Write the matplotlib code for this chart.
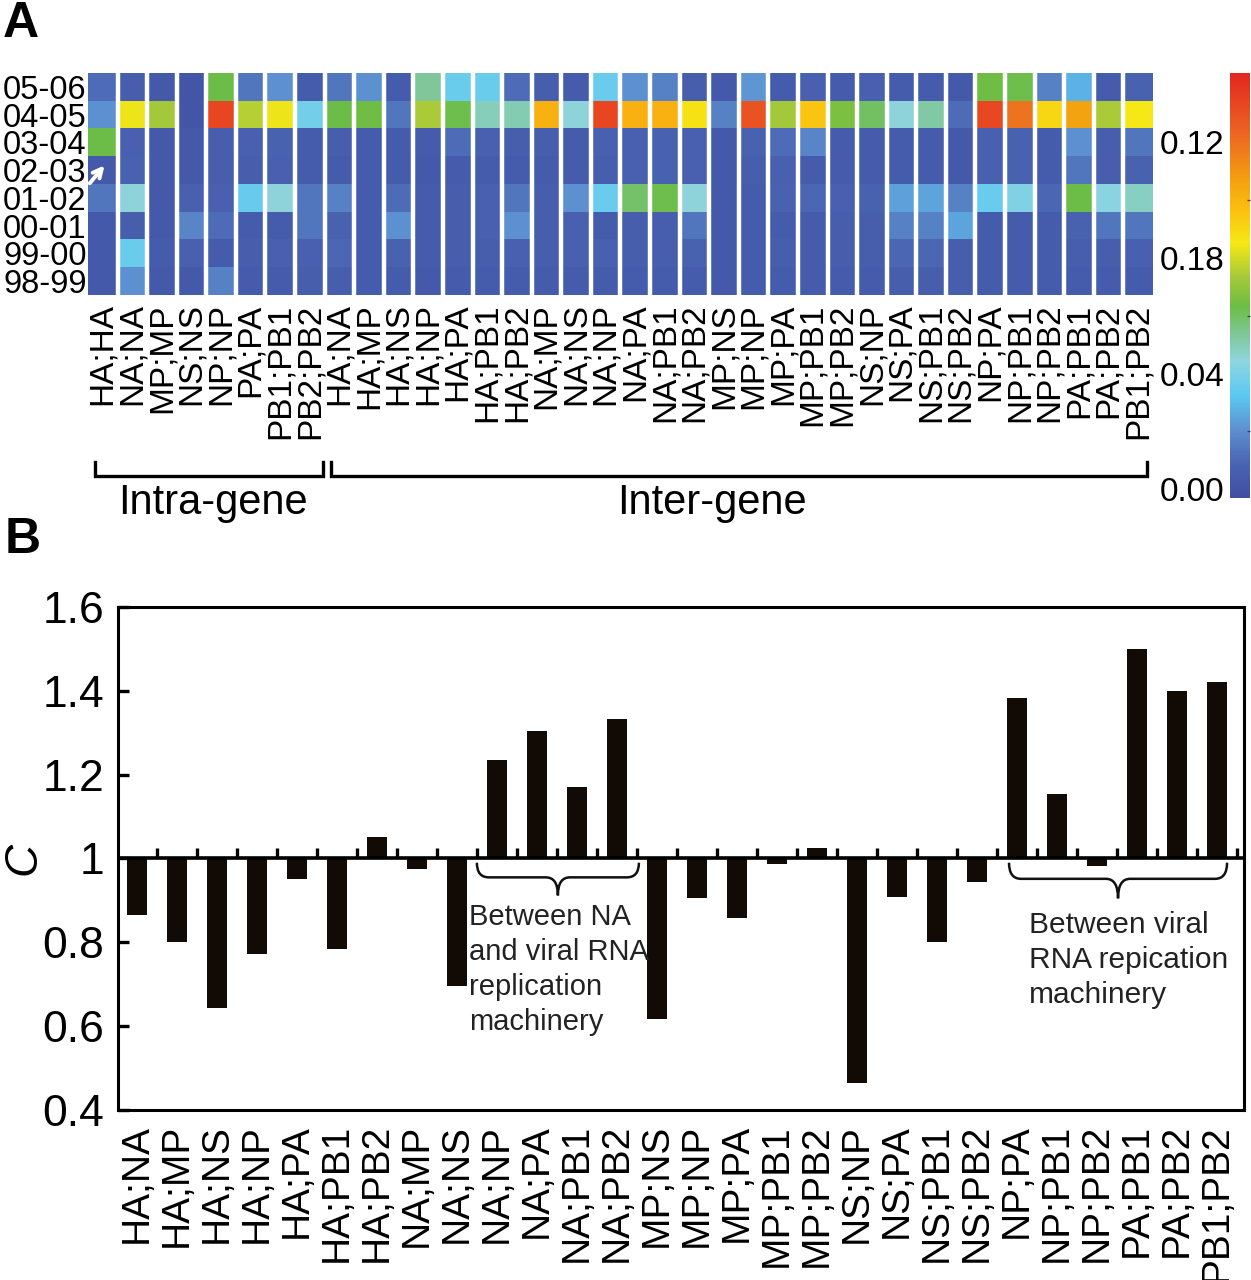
import numpy as np
import matplotlib
matplotlib.use('Agg')
import matplotlib.pyplot as plt
from matplotlib.colors import LinearSegmentedColormap
from matplotlib.path import Path
from matplotlib.patches import PathPatch
from matplotlib.transforms import blended_transform_factory

plt.rcParams['font.family'] = ['Liberation Sans', 'DejaVu Sans']

# ---- panel A data ----
seasons = ['05-06', '04-05', '03-04', '02-03', '01-02', '00-01', '99-00', '98-99']
intra_pairs = ['HA;HA', 'NA;NA', 'MP;MP', 'NS;NS', 'NP;NP', 'PA;PA', 'PB1;PB1', 'PB2;PB2']
inter_pairs = ['HA;NA', 'HA;MP', 'HA;NS', 'HA;NP', 'HA;PA', 'HA;PB1', 'HA;PB2',
               'NA;MP', 'NA;NS', 'NA;NP', 'NA;PA', 'NA;PB1', 'NA;PB2',
               'MP;NS', 'MP;NP', 'MP;PA', 'MP;PB1', 'MP;PB2',
               'NS;NP', 'NS;PA', 'NS;PB1', 'NS;PB2',
               'NP;PA', 'NP;PB1', 'NP;PB2', 'PA;PB1', 'PA;PB2', 'PB1;PB2']

s0506 = [0.011, 0.006, 0.003, 0.001, 0.063, 0.014, 0.021, 0.004, 0.014, 0.021, 0.004, 0.053,
         0.036, 0.036, 0.011, 0.006, 0.004, 0.036, 0.021, 0.017, 0.006, 0.003, 0.022, 0.004,
         0.007, 0.004, 0.007, 0.004, 0.004, 0.003, 0.064, 0.062, 0.017, 0.028, 0.004, 0.008]
s0405 = [0.021, 0.084, 0.073, 0.001, 0.133, 0.076, 0.084, 0.038, 0.063, 0.064, 0.014, 0.074,
         0.062, 0.049, 0.050, 0.101, 0.045, 0.133, 0.101, 0.101, 0.087, 0.017, 0.129, 0.073,
         0.095, 0.066, 0.060, 0.045, 0.052, 0.011, 0.132, 0.119, 0.090, 0.106, 0.074, 0.085]
s0304 = [0.063, 0.007, 0.003, 0.003, 0.006, 0.007, 0.008, 0.004, 0.006, 0.004, 0.004, 0.004,
         0.011, 0.007, 0.006, 0.006, 0.004, 0.007, 0.007, 0.008, 0.007, 0.003, 0.008, 0.011,
         0.018, 0.004, 0.004, 0.004, 0.004, 0.003, 0.007, 0.008, 0.004, 0.021, 0.006, 0.014]
s0203 = [0.003, 0.008, 0.003, 0.003, 0.006, 0.006, 0.007, 0.004, 0.004, 0.004, 0.004, 0.003,
         0.004, 0.004, 0.004, 0.004, 0.004, 0.006, 0.007, 0.008, 0.007, 0.003, 0.006, 0.007,
         0.004, 0.004, 0.004, 0.004, 0.004, 0.003, 0.007, 0.008, 0.004, 0.014, 0.006, 0.008]
s0102 = [0.014, 0.045, 0.003, 0.007, 0.007, 0.035, 0.045, 0.014, 0.017, 0.004, 0.011, 0.004,
         0.006, 0.007, 0.014, 0.006, 0.021, 0.036, 0.059, 0.062, 0.045, 0.003, 0.004, 0.008,
         0.010, 0.007, 0.008, 0.024, 0.025, 0.017, 0.036, 0.041, 0.010, 0.063, 0.043, 0.048]
s0001 = [0.003, 0.006, 0.003, 0.018, 0.011, 0.004, 0.004, 0.014, 0.008, 0.004, 0.021, 0.004,
         0.006, 0.007, 0.021, 0.006, 0.007, 0.004, 0.006, 0.006, 0.014, 0.003, 0.004, 0.004,
         0.004, 0.006, 0.006, 0.017, 0.017, 0.025, 0.004, 0.004, 0.004, 0.008, 0.014, 0.014]
s9900 = [0.003, 0.036, 0.004, 0.007, 0.004, 0.006, 0.007, 0.007, 0.010, 0.004, 0.008, 0.004,
         0.006, 0.006, 0.007, 0.006, 0.007, 0.007, 0.006, 0.006, 0.008, 0.003, 0.004, 0.006,
         0.004, 0.006, 0.006, 0.010, 0.010, 0.006, 0.004, 0.004, 0.004, 0.006, 0.006, 0.007]
s9899 = [0.003, 0.021, 0.003, 0.003, 0.017, 0.004, 0.004, 0.006, 0.006, 0.004, 0.004, 0.003,
         0.004, 0.004, 0.004, 0.004, 0.004, 0.004, 0.004, 0.004, 0.004, 0.003, 0.004, 0.004,
         0.004, 0.004, 0.004, 0.006, 0.006, 0.006, 0.004, 0.004, 0.004, 0.004, 0.004, 0.004]

cbar_ticks = [0.00, 0.04, 0.08, 0.12]
cbar_labels = ['0.00', '0.04', '0.18', '0.12']

# ---- panel B data ----
c_values = [0.866, 0.80, 0.644, 0.773, 0.952, 0.785, 1.052,
            0.974, 0.695, 1.236, 1.305, 1.17, 1.332,
            0.618, 0.905, 0.857, 0.988, 1.026,
            0.465, 0.909, 0.80, 0.943,
            1.384, 1.155, 0.981, 1.499, 1.40, 1.422]

heat = np.array([s0506, s0405, s0304, s0203, s0102, s0001, s9900, s9899])
col_labels = intra_pairs + inter_pairs

cmap = LinearSegmentedColormap.from_list('jetlike', [
    (0.00, '#3f4fa2'), (0.08, '#4a64b2'), (0.16, '#5e90d0'), (0.24, '#5bc9f2'),
    (0.32, '#8fd5e0'), (0.38, '#80c89c'), (0.45, '#6cbd45'), (0.52, '#a5c93a'),
    (0.60, '#f6e817'), (0.68, '#fbbf10'), (0.75, '#f4a010'), (0.86, '#ec6424'),
    (1.00, '#e3261f')])

fig = plt.figure(figsize=(12.51, 12.80), dpi=100)

# ---------------- panel A ----------------
ax1 = fig.add_axes([0.0703, 0.7695, 0.8513, 0.1734])
im = ax1.imshow(heat, aspect='auto', cmap=cmap, vmin=-0.003, vmax=0.144,
                interpolation='nearest')
for i in range(len(col_labels) - 1):
    ax1.axvline(i + 0.5, color='white', lw=3.2)
ax1.set_xticks(range(len(col_labels)))
ax1.set_xticklabels(col_labels, rotation=90, fontsize=24)
ax1.set_yticks(range(len(seasons)))
ax1.set_yticklabels(seasons, fontsize=23.5)
ax1.tick_params(axis='both', length=0)
ax1.tick_params(axis='x', pad=6)
ax1.tick_params(axis='y', pad=1)
for sp in ax1.spines.values():
    sp.set_visible(False)

ax1.annotate('', xy=(0.12, 2.75), xytext=(-0.5, 3.55),
             arrowprops=dict(arrowstyle='->', color='white', lw=2.8, mutation_scale=16),
             annotation_clip=False)

# brackets under the labels
tr = blended_transform_factory(ax1.transData, ax1.transAxes)
for x0, x1, xt, label in [(-0.26, 7.44, 3.73, 'Intra-gene'), (7.71, 35.3, 20.6, 'Inter-gene')]:
    ax1.plot([x0, x0, x1, x1], [-0.752, -0.815, -0.815, -0.752], color='black',
             lw=2.4, transform=tr, clip_on=False, solid_joinstyle='miter')
    ax1.text(xt, -0.845, label, transform=tr, ha='center', va='top', fontsize=30)

cax = fig.add_axes([0.983, 0.611, 0.016, 0.332])
cbar = fig.colorbar(im, cax=cax)
cbar.outline.set_visible(False)
cbar.set_ticks(cbar_ticks)
cbar.set_ticklabels(cbar_labels)
cax.set_ylim(-0.003, 0.144)
cax.yaxis.set_ticks_position('left')
cax.tick_params(axis='y', length=0, labelsize=24, pad=4)
cax.set_yticks(np.arange(0.02, 0.14, 0.02), minor=True)
cax.tick_params(axis='y', which='minor', length=2, width=1, color='#444444',
                right=True, left=False, direction='in')

# ---------------- panel B ----------------
ax2 = fig.add_axes([0.0943, 0.1328, 0.9, 0.393])
x = np.arange(len(inter_pairs))
vals = np.array(c_values)
ax2.bar(x, vals - 1, bottom=1, width=0.5, color='#120a05')
ax2.axhline(1, color='black', lw=2.6)
ax2.vlines(x + 0.5, 1, 1.025, color='black', lw=2.4)
ax2.set_xlim(-0.47, 27.67)
ax2.set_ylim(0.4, 1.6)
ax2.set_yticks([0.4, 0.6, 0.8, 1.0, 1.2, 1.4, 1.6])
ax2.set_yticklabels(['0.4', '0.6', '0.8', '1', '1.2', '1.4', '1.6'], fontsize=32)
ax2.tick_params(axis='y', direction='in', length=8, width=2.4, pad=10)
ax2.set_xticks(x)
ax2.set_xticklabels(inter_pairs, rotation=90, fontsize=28)
ax2.tick_params(axis='x', length=0, pad=10)
for sp in ax2.spines.values():
    sp.set_linewidth(2.2)
ax2.set_ylabel('C', fontsize=33, style='italic')
ax2.yaxis.set_label_coords(-0.064, 0.5)


def brace(ax, x0, x1, ytop, ybot, r=0.3):
    ymid = (ytop + ybot) / 2 + 0.004
    xc = (x0 + x1) / 2
    verts = [(x0, ytop), (x0, ymid), (x0 + r, ymid),
             (xc - r, ymid), (xc, ymid), (xc, ybot),
             (xc, ymid), (xc + r, ymid),
             (x1 - r, ymid), (x1, ymid), (x1, ytop)]
    codes = [Path.MOVETO, Path.CURVE3, Path.CURVE3,
             Path.LINETO, Path.CURVE3, Path.CURVE3,
             Path.CURVE3, Path.CURVE3,
             Path.LINETO, Path.CURVE3, Path.CURVE3]
    ax.add_patch(PathPatch(Path(verts, codes), fill=False, lw=1.8, color='#111111'))


brace(ax2, 8.5, 12.55, 0.99, 0.912)
brace(ax2, 21.8, 27.25, 0.99, 0.905)

ax2.text(8.3, 0.893, 'Between NA\nand viral RNA\nreplication\nmachinery', fontsize=21,
         color='#222222', va='top', ha='left', linespacing=1.32)
ax2.text(22.3, 0.874, 'Between viral\nRNA repication\nmachinery', fontsize=21.5,
         color='#222222', va='top', ha='left', linespacing=1.32)

fig.text(0.002, 0.999, 'A', fontsize=36, weight='bold', va='top', ha='left')
fig.text(0.004, 0.596, 'B', fontsize=36, weight='bold', va='top', ha='left')

fig.savefig('out.png', dpi=100, facecolor='white')
